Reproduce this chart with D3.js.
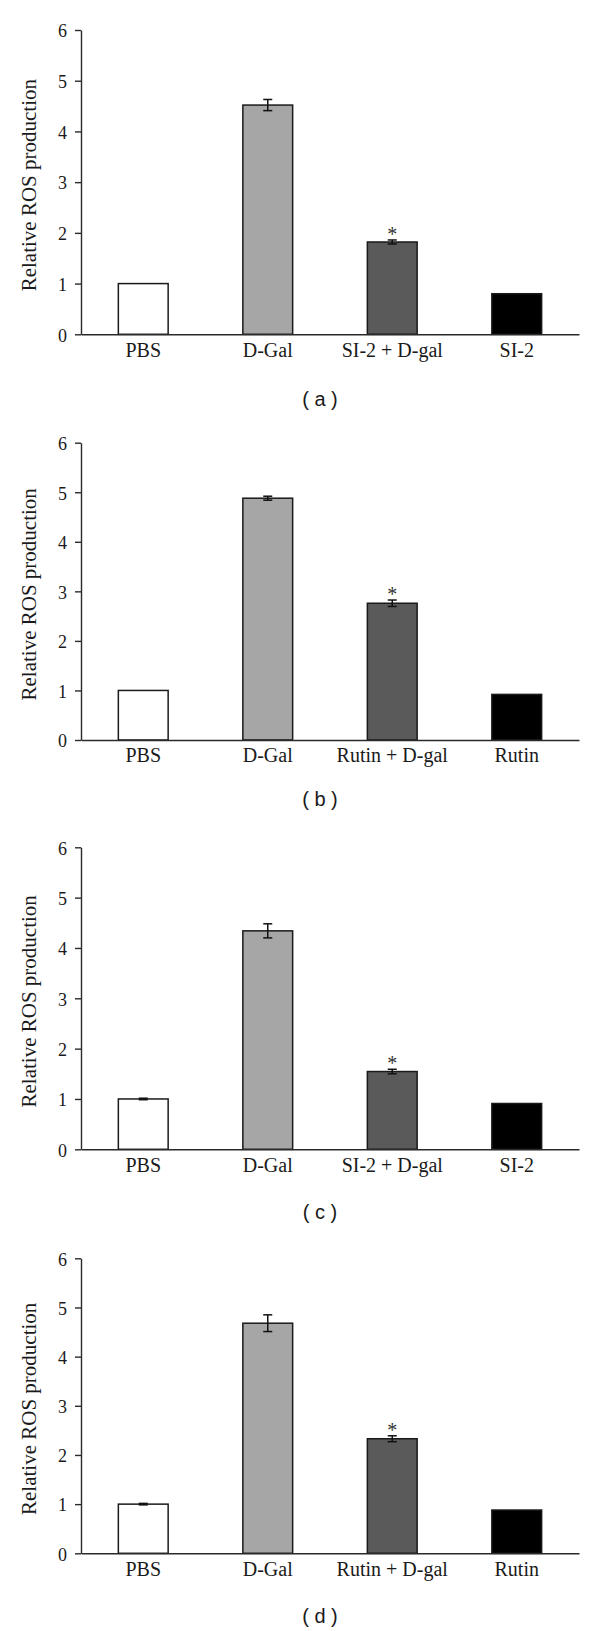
<!DOCTYPE html>
<html>
<head>
<meta charset="utf-8">
<script src="https://cdn.jsdelivr.net/npm/d3@7"></script>
<style>
  html, body { margin: 0; padding: 0; background: #fff; }
  svg { display: block; }
</style>
</head>
<body>
<svg id="chart" width="600" height="1631"></svg>
<script>
// ---- data ----
const categoriesSI = ["PBS", "D-Gal", "SI-2 + D-gal", "SI-2"];
const categoriesRutin = ["PBS", "D-Gal", "Rutin + D-gal", "Rutin"];

const valuesA = [1.0, 4.52, 1.82, 0.80];
const errorsA = [0, 0.11, 0.04, 0];
const valuesB = [1.0, 4.88, 2.76, 0.92];
const errorsB = [0, 0.04, 0.065, 0];
const valuesC = [1.0, 4.34, 1.545, 0.91];
const errorsC = [0.015, 0.14, 0.045, 0];
const valuesD = [1.0, 4.68, 2.33, 0.88];
const errorsD = [0.015, 0.17, 0.06, 0];
const significant = [false, false, true, false];

const yTicks = [0, 1, 2, 3, 4, 5, 6];
const yTitle = "Relative ROS production";
const panelLabels = ["( a )", "( b )", "( c )", "( d )"];
const barColors = ["#ffffff", "#a6a6a6", "#5a5a5a", "#000000"];

// ---- layout (per panel) ----
const panels = [
  { cats: categoriesSI,    vals: valuesA, errs: errorsA, top: 30,    bottom: 334.3,  labelY: 406 },
  { cats: categoriesRutin, vals: valuesB, errs: errorsB, top: 442.7, bottom: 740,    labelY: 806 },
  { cats: categoriesSI,    vals: valuesC, errs: errorsC, top: 847.3, bottom: 1149.3, labelY: 1219 },
  { cats: categoriesRutin, vals: valuesD, errs: errorsD, top: 1258.3,bottom: 1553.3, labelY: 1623 }
];
const left = 81, right = 579;
const serif = "'Liberation Serif', 'Times New Roman', serif";
const svg = d3.select("#chart");

panels.forEach((p, pi) => {
  const g = svg.append("g");
  const x = d3.scaleBand().domain(p.cats).range([left, right])
    .paddingInner(0.6).paddingOuter(0.3);
  const y = d3.scaleLinear().domain([0, 6]).range([p.bottom, p.top]);

  // bars
  g.selectAll("rect.bar").data(p.vals).join("rect")
    .attr("class", "bar")
    .attr("x", (d, i) => x(p.cats[i]))
    .attr("width", x.bandwidth())
    .attr("y", d => y(d))
    .attr("height", d => y(0) - y(d))
    .attr("fill", (d, i) => barColors[i])
    .attr("stroke", "#1a1a1a")
    .attr("stroke-width", 1.5);

  // error bars
  const capW = 4.5;
  p.vals.forEach((v, i) => {
    const e = p.errs[i];
    if (e <= 0) return;
    const cx = x(p.cats[i]) + x.bandwidth() / 2;
    const eg = g.append("g").attr("stroke", "#111").attr("stroke-width", 1.5);
    eg.append("line").attr("x1", cx).attr("x2", cx).attr("y1", y(v + e)).attr("y2", y(v - e));
    eg.append("line").attr("x1", cx - capW).attr("x2", cx + capW).attr("y1", y(v + e)).attr("y2", y(v + e));
    eg.append("line").attr("x1", cx - capW).attr("x2", cx + capW).attr("y1", y(v - e)).attr("y2", y(v - e));
  });

  // significance stars
  p.vals.forEach((v, i) => {
    if (!significant[i]) return;
    const cx = x(p.cats[i]) + x.bandwidth() / 2;
    g.append("text")
      .attr("x", cx).attr("y", y(v + p.errs[i]) + 1)
      .attr("text-anchor", "middle")
      .attr("font-family", serif).attr("font-size", 20).attr("fill", "#333")
      .text("*");
  });

  // y axis
  const ya = g.append("g").attr("transform", `translate(${left},0)`)
    .call(d3.axisLeft(y).tickValues(yTicks).tickFormat(d3.format("d"))
      .tickSize(6).tickSizeOuter(0).tickPadding(8));
  ya.selectAll("path, line").attr("stroke", "#2a2a2a").attr("stroke-width", 1.4);
  ya.selectAll("text").attr("font-family", serif).attr("font-size", 18)
    .attr("fill", "#1a1a1a").attr("dy", "0.38em");

  // x axis
  const xa = g.append("g").attr("transform", `translate(0,${p.bottom})`)
    .call(d3.axisBottom(x).tickSize(0).tickSizeOuter(0).tickPadding(8.2));
  xa.select(".domain").attr("stroke", "#2a2a2a").attr("stroke-width", 1.4);
  xa.selectAll("text").attr("font-family", serif).attr("font-size", 20).attr("fill", "#1a1a1a");

  // y title
  g.append("text")
    .attr("transform", `translate(36,${(p.top + p.bottom) / 2 + 3}) rotate(-90)`)
    .attr("text-anchor", "middle")
    .attr("font-family", serif).attr("font-size", 21).attr("fill", "#1a1a1a")
    .text(yTitle);

  // panel label
  g.append("text")
    .attr("x", 320).attr("y", p.labelY)
    .attr("text-anchor", "middle")
    .attr("font-family", "'Liberation Sans', Arial, sans-serif").attr("font-size", 20).attr("fill", "#1a1a1a")
    .text(panelLabels[pi]);
});
</script>
</body>
</html>
